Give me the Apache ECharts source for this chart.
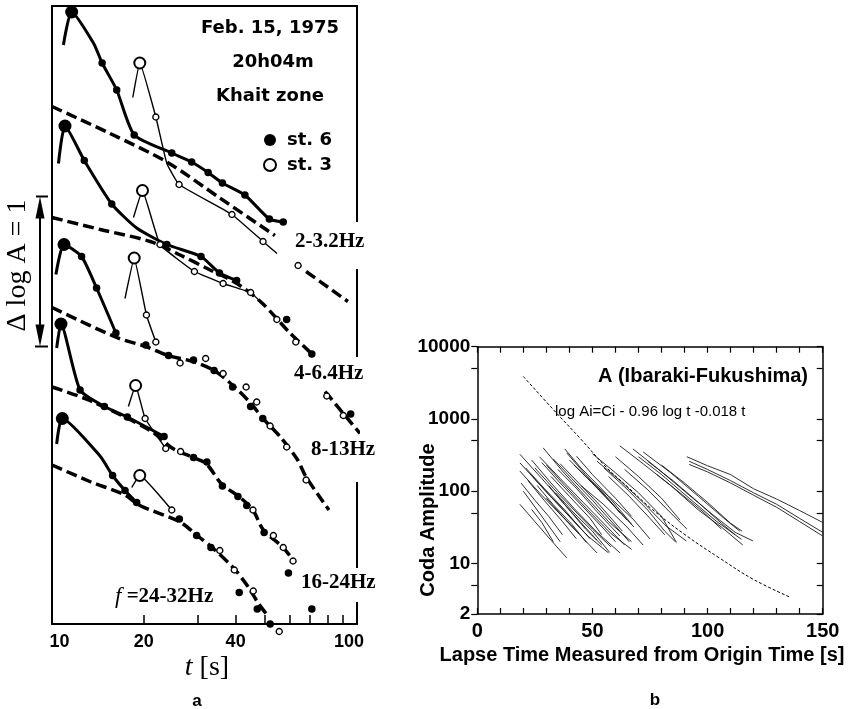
<!DOCTYPE html>
<html><head><meta charset="utf-8">
<script src="https://cdn.jsdelivr.net/npm/echarts/dist/echarts.min.js"></script>
<style>html,body{margin:0;padding:0;background:#fff}#c{width:852px;height:709px}</style>
</head><body><div id="c"></div>
<script>
// ---------- Panel a : t [s] (log), relative log A (units of one decade) ----------
const tTicksA = [10, 20, 30, 40, 50, 60, 70, 80, 90, 100];
const tLabelsA = [10, 20, 40, 100];
const scaleBar = [1.85, 2.85]; // Δ log A = 1

// band 1 : 2-3.2 Hz
const b1Dash = [[10,3.45],[15.5,3.27],[23.8,3.08],[35.5,2.84],[53.8,2.59]];
const b1DashTail = [[68.1,2.35],[93.4,2.15]];
const b1St6Path = [[10.9,3.86],[11.6,4.08],[13.7,3.87],[14.6,3.74],[16.3,3.56],[18.6,3.26],[24.7,3.14],[28.7,3.08],[32.5,3.01],[36.2,2.94],[42.9,2.86],[51.6,2.70],[57.3,2.68]];
const b1St6Dots = [[11.6,4.08],[14.6,3.74],[16.3,3.56],[18.6,3.26],[24.7,3.14],[28.7,3.08],[32.5,3.01],[36.2,2.94],[42.9,2.86],[51.6,2.70],[57.3,2.68]];
const b1St3Path = [[18.4,3.51],[19.4,3.74],[21.9,3.38],[23.8,3.07],[26.1,2.93],[38.9,2.73],[49.2,2.55],[54.7,2.47]];
const b1St3Dots = [[19.4,3.74],[21.9,3.38],[26.1,2.93],[38.9,2.73],[49.2,2.55],[64.1,2.39]];

// band 2 : 4-6.4 Hz
const b2Dash = [[10,2.71],[14.4,2.63],[21.0,2.55],[26.3,2.46],[33.0,2.36],[40.4,2.27],[48.8,2.14],[60.3,1.94],[71.2,1.80]];
const b2DashTail = [[78.6,1.55],[102.3,1.27]];
const b2St6Path = [[10.5,3.07],[11.03,3.32],[12.76,3.09],[15.7,2.80],[18.95,2.64],[23.8,2.53],[30.8,2.45],[35.4,2.34],[40.3,2.29]];
const b2St6Dots = [[11.03,3.32],[12.76,3.09],[15.7,2.80],[23.8,2.53],[30.8,2.45],[35.4,2.34],[40.3,2.29],[58.8,2.03],[71.1,1.80],[95.3,1.40]];
const b2St3Path = [[18.5,2.71],[19.8,2.89],[22.6,2.53],[29.3,2.35],[36.4,2.27],[44.8,2.21],[48.7,2.14]];
const b2St3Dots = [[19.8,2.89],[22.6,2.53],[29.3,2.35],[36.4,2.27],[44.8,2.21],[54.6,2.03],[63.0,1.88],[79.6,1.52],[90.2,1.39]];

// band 3 : 8-13 Hz
const b3Dash = [[10,2.11],[16.3,1.91],[20.3,1.85],[24.0,1.79],[29.0,1.75],[34.0,1.69],[39.2,1.59],[44.9,1.47],[49.2,1.37],[55.9,1.25],[63.6,1.10],[68.1,0.98],[80.9,0.76]];
const b3St6Path = [[10.3,2.33],[10.95,2.53],[12.5,2.45],[14.0,2.24],[16.2,1.94]];
const b3St6Dots = [[10.95,2.53],[12.5,2.45],[14.0,2.24],[16.2,1.94],[20.3,1.86],[24.1,1.79],[29.1,1.76],[34.0,1.69],[39.1,1.58],[44.8,1.45],[49.1,1.37]];
const b3St3Path = [[17.35,2.17],[18.6,2.44],[20.4,2.06],[21.9,1.88]];
const b3St3Dots = [[18.6,2.44],[20.4,2.06],[21.9,1.88],[26.3,1.74],[31.9,1.77],[36.4,1.67],[43.3,1.58],[46.9,1.48],[51.9,1.32],[58.8,1.18],[68.1,0.96]];

// band 4 : 16-24 Hz
const b4Dash = [[10,1.58],[13.3,1.49],[21.0,1.29],[24.9,1.17],[29.0,1.11],[32.0,1.07],[36.1,0.93],[41.0,0.85],[45.6,0.76],[49.2,0.63],[57.2,0.51],[62.6,0.41]];
const b4St6Path = [[10.36,1.84],[10.7,2.0],[12.36,1.56],[14.85,1.45],[17.66,1.38],[23.3,1.25]];
const b4St6Dots = [[10.7,2.0],[12.36,1.56],[14.85,1.45],[17.66,1.38],[23.3,1.25],[29.1,1.11],[32.2,1.08],[36.2,0.92],[40.7,0.85],[43.5,0.79],[49.6,0.61],[59.6,0.34],[71.1,0.10]];
const b4St3Path = [[17.8,1.45],[18.8,1.59],[20.2,1.37],[23.6,1.17]];
const b4St3Dots = [[18.8,1.59],[20.2,1.37],[23.6,1.17],[26.4,1.15],[45.6,0.76],[53.2,0.59],[57.3,0.51],[61.7,0.42]];

// band 5 : f = 24-32 Hz
const b5Dash = [[10,1.06],[13.3,0.95],[17.35,0.86],[19.4,0.79],[26.3,0.68],[29.9,0.59],[33.5,0.51],[39.5,0.37],[43.9,0.25],[47.4,0.14],[50.3,0.07]];
const b5St6Path = [[10.36,1.20],[10.81,1.37],[14.37,1.12],[15.8,0.99],[17.35,0.89],[18.95,0.81]];
const b5St6Dots = [[10.81,1.37],[15.8,0.99],[17.35,0.89],[18.95,0.81],[26.15,0.70],[29.8,0.59],[33.2,0.51],[41.1,0.21],[47.1,0.10],[51.9,0.0]];
const b5St3Path = [[18.25,0.91],[19.4,0.99],[24.7,0.76]];
const b5St3Dots = [[19.4,0.99],[24.7,0.76],[35.5,0.49],[39.6,0.36],[45.7,0.22],[55.6,-0.05]];

// ---------- Panel b : lapse time [s] vs coda amplitude (log) ----------
const ampTicks = [2, 5, 10, 50, 100, 500, 1000, 5000, 10000];
const ampLabels = [2, 10, 100, 1000, 10000];
const modelCurve = [[20,3870],[33,1350],[45,525],[56,215],[65,117],[76,56],[91,24],[105,12],[120,6],[136,3.4]];
const codaGroupA = [
  [[18.5,325],[28,150],[38,65],[47,30],[54,18]],
  [[18.5,247],[28,115],[38,52],[48,24],[57,14]],
  [[18.5,190],[27,95],[36,48],[44,26]],
  [[18.5,66],[25,38],[32,21],[38.8,12]],
  [[23.6,56],[28,37],[33,20]],
  [[23.6,270],[32,130],[42,58],[52,27],[62,14]],
  [[25,210],[33,110],[42,55],[50,30],[58,17]],
  [[28.6,398],[37,190],[47,85],[57,38],[67,20]],
  [[27,300],[36,150],[46,70],[56,33],[64,18]],
  [[30,230],[38,120],[48,55],[58,26],[67,15.7]],
  [[38,385],[45,210],[55,100],[63,50],[67,35]],
  [[38.8,340],[47,170],[56,85],[62,50]],
  [[43.1,305],[50,170],[60,80],[67,45]],
  [[22,140],[29,75],[37,38],[43,22]],
  [[26,120],[33,65],[41,35],[47.4,19.5]],
  [[20,100],[26,55],[32,30],[36,20]],
  [[32,160],[40,85],[49,42],[54,25]],
  [[35,200],[43,110],[52,52],[61.9,24]],
  [[30,80],[37,45],[45,24],[52,14]],
  [[34,95],[42,50],[50,28],[57.5,14.2]],
  [[21,210],[29,110],[38,55],[45,30]],
  [[24,160],[31,90],[40,45],[49,22]],
  [[28,250],[36,130],[45,65],[55,30],[60,20]],
  [[33,280],[41,150],[50,75],[60,33],[66,20]],
  [[36,240],[44,130],[53,65],[63,28]],
  [[40,270],[48,150],[57,75],[65,40]],
  [[19,130],[25,75],[31,45],[37,25]],
  [[31,120],[38,65],[46,34],[52,21]]
];
const codaGroupB = [
  [[50,330],[60,180],[70,95],[80,45],[86.5,19.5]],
  [[52,260],[62,140],[72,70],[82,33],[90.8,20.5]],
  [[55,210],[64,115],[74,55],[81.4,28],[86,20]],
  [[48,150],[58,80],[68,40],[74.9,22]],
  [[57,160],[66,85],[75,42],[81.4,25]],
  [[45,120],[55,65],[65,32],[72,18]],
  [[42,230],[50,130],[60,60],[68,32]],
  [[60,300],[70,160],[80,80],[88,40]],
  [[64,200],[74,105],[84,50],[91,30]]
];
const codaGroupC = [
  [[61.9,425],[72,240],[84,120],[96,55],[106,32],[115.3,18]],
  [[67.6,385],[78,210],[90,100],[102,48],[112,27],[119.7,20.5]],
  [[70,300],[80,170],[92,80],[104,38],[114.7,21.6]],
  [[74,260],[85,140],[96,70],[106,36],[112,25]],
  [[80,230],[90,130],[100,70],[110,36],[115,28]],
  [[78,170],[88,95],[98,52],[106,30]],
  [[72,350],[84,180],[96,85],[108,40],[114,28]]
];
const codaGroupD = [
  [[91,300],[100,225],[110,170],[120,108],[130,78],[140,54],[150,37]],
  [[92,260],[100,200],[110,140],[120,95],[130,66],[140,42],[150,27]],
  [[92,235],[100,185],[110,130],[120,88],[130,60],[140,38],[150,24]]
];

// ---------- helpers ----------
const LG10 = Math.log10;
const lgX = a => a.map(p => [LG10(p[0]), p[1]]);
const lgY = a => a.map(p => [p[0], LG10(p[1])]);
const SANS_A = '"DejaVu Sans"';
const SANS = '"Liberation Sans", Arial, sans-serif';
const SERIF = '"Liberation Serif", "Times New Roman", serif';

const series = [];
function addScatter(name, d, filled, size, bw, z) {
  series.push({type:'scatter', name, xAxisIndex:0, yAxisIndex:0, data:lgX(d), symbol:'circle',
    symbolSize:size, clip:false, z, silent:true,
    itemStyle: filled ? {color:'#000', opacity:1} : {color:'#fff', borderColor:'#000', borderWidth:bw, opacity:1}});
}
function addLine(d, width, dash, smooth, z) {
  series.push({type:'line', xAxisIndex:0, yAxisIndex:0, data:lgX(d), showSymbol:false, smooth,
    clip:false, z, silent:true, lineStyle:{color:'#000', width, type:dash || 'solid', cap:'butt'}});
}
const bands = [
  [b1Dash, b1DashTail, b1St6Path, b1St6Dots, b1St3Path, b1St3Dots],
  [b2Dash, b2DashTail, b2St6Path, b2St6Dots, b2St3Path, b2St3Dots],
  [b3Dash, null, b3St6Path, b3St6Dots, b3St3Path, b3St3Dots],
  [b4Dash, null, b4St6Path, b4St6Dots, b4St3Path, b4St3Dots],
  [b5Dash, null, b5St6Path, b5St6Dots, b5St3Path, b5St3Dots]
];
// legend series first
addScatter('st. 6', bands[0][3].slice(1), true, 7.5, 0, 5);
addScatter('st. 3', bands[0][5].slice(1), false, 6, 1.4, 5);
bands.forEach((b, i) => {
  addLine(b[0], 3.5, [11,5], 0.3, 2);
  if (b[1]) addLine(b[1], 3.5, [11,5], 0, 2);
  addLine(b[2], 3, null, 0.2, 3);
  addLine(b[4], 1.4, null, 0.1, 3);
  addScatter('st6peak', b[3].slice(0,1), true, 13, 0, 5);
  if (i > 0) addScatter('st6dots', b[3].slice(1), true, 7.5, 0, 5);
  addScatter('st3peak', b[5].slice(0,1), false, 11, 2, 5);
  if (i > 0) addScatter('st3dots', b[5].slice(1), false, 6, 1.4, 5);
});
// panel b
[codaGroupA, codaGroupB, codaGroupC, codaGroupD].forEach(g => g.forEach(line => {
  series.push({type:'line', xAxisIndex:2, yAxisIndex:2, data:lgY(line), showSymbol:false, silent:true,
    lineStyle:{color:'#1a1a1a', width:0.9}});
}));
series.push({type:'line', xAxisIndex:2, yAxisIndex:2, data:lgY(modelCurve), showSymbol:false, smooth:0.4,
  silent:true, lineStyle:{color:'#000', width:1, type:[3,2]}});

const axA = {color:'#000', width:2};
const axB = {color:'#000', width:1.5};
const noLbl = {show:false};
const option = {
  animation:false,
  backgroundColor:'#fff',
  grid:[
    {left:52, top:6, width:305, height:618},
    {left:477.3, top:346.7, width:345.4, height:267.3}
  ],
  legend:{
    data:[{name:'st. 6', icon:'circle'},
          {name:'st. 3', icon:'circle', itemStyle:{color:'#fff', borderColor:'#000', borderWidth:2}}],
    orient:'vertical', left:258, top:126, itemWidth:12, itemHeight:12, itemGap:7, selectedMode:false,
    textStyle:{fontFamily:SANS_A, fontWeight:'bold', fontSize:18, color:'#000', padding:[0,0,0,6]}
  },
  xAxis:[
    {gridIndex:0, type:'value', min:1, max:2, position:'bottom',
     axisLine:{onZero:false, lineStyle:axA},
     axisTick:{inside:true, length:9, lineStyle:{color:'#000', width:1.5}, customValues:tTicksA.map(LG10)},
     axisLabel:{customValues:tLabelsA.map(LG10), margin:9, color:'#000',
       fontFamily:SANS, fontWeight:'bold', fontSize:18,
       formatter:v => { const n = Math.round(Math.pow(10, v)); return n === 10 ? '{l|10}' : n === 100 ? '{r|100}' : '{c|' + n + '}'; },
       rich:{
         l:{fontFamily:SANS, fontWeight:'bold', fontSize:18, color:'#000', padding:[0,0,0,15]},
         r:{fontFamily:SANS, fontWeight:'bold', fontSize:18, color:'#000', padding:[0,16,0,0]},
         c:{fontFamily:SANS, fontWeight:'bold', fontSize:18, color:'#000'}
       }},
     splitLine:{show:false}},
    {gridIndex:0, type:'value', min:1, max:2, position:'top',
     axisLine:{onZero:false, lineStyle:axA}, axisTick:{show:false}, axisLabel:noLbl, splitLine:{show:false}},
    {gridIndex:1, type:'value', min:0, max:150, interval:10, position:'bottom',
     axisLine:{onZero:false, lineStyle:axB},
     axisTick:{inside:true, length:6, lineStyle:{color:'#000', width:1.2}},
     axisLabel:{margin:7, color:'#000', fontFamily:SANS, fontWeight:'bold', fontSize:20,
       formatter:v => (v % 50 === 0 ? String(v) : '')},
     splitLine:{show:false}},
    {gridIndex:1, type:'value', min:0, max:150, interval:10, position:'top',
     axisLine:{onZero:false, lineStyle:axB},
     axisTick:{inside:true, length:6, lineStyle:{color:'#000', width:1.2}}, axisLabel:noLbl, splitLine:{show:false}}
  ],
  yAxis:[
    {gridIndex:0, type:'value', min:0, max:4.12, position:'left',
     axisLine:{show:true, onZero:false, lineStyle:axA}, axisTick:{show:false}, axisLabel:noLbl, splitLine:{show:false}},
    {gridIndex:0, type:'value', min:0, max:4.12, position:'right',
     axisLine:{show:true, onZero:false, lineStyle:axA}, axisTick:{show:false}, axisLabel:noLbl, splitLine:{show:false}},
    {gridIndex:1, type:'value', min:LG10(2), max:4, position:'left',
     axisLine:{show:true, onZero:false, lineStyle:axB},
     axisTick:{show:true, inside:false, length:6, lineStyle:{color:'#000', width:1.2}, customValues:ampTicks.map(LG10)},
     axisLabel:{customValues:ampLabels.map(LG10), margin:7, color:'#000', fontFamily:SANS, fontWeight:'bold', fontSize:19,
       formatter:v => String(Math.round(Math.pow(10, v)))},
     splitLine:{show:false}},
    {gridIndex:1, type:'value', min:LG10(2), max:4, position:'right',
     axisLine:{show:true, onZero:false, lineStyle:axB},
     axisTick:{show:true, inside:true, length:6, lineStyle:{color:'#000', width:1.2}, customValues:ampTicks.map(LG10)},
     axisLabel:noLbl, splitLine:{show:false}}
  ],
  series
};

const chart = echarts.init(document.getElementById('c'), null, {renderer:'canvas'});
chart.setOption(option);

// ---------- annotations ----------
function txt(x, y, text, font, align, extra) {
  return Object.assign({type:'text', x, y, z:20, silent:true,
    style:{text, font, fill:'#000', align:align || 'center', textAlign:align || 'center',
           verticalAlign:'middle', textVerticalAlign:'middle'}}, extra || {});
}
const pTop = chart.convertToPixel({gridIndex:0}, [1, scaleBar[1]]);
const pBot = chart.convertToPixel({gridIndex:0}, [1, scaleBar[0]]);
const bx = pTop[0] - 12, yT = pTop[1], yB = pBot[1];
const rightX = chart.convertToPixel({gridIndex:0}, [2, 0])[0];
const gaps = [[222, 269], [357, 482], [568, 602]];
const graphics = [];
gaps.forEach(g => graphics.push({type:'rect', z:1, silent:true,
  shape:{x:rightX - 4, y:g[0], width:8, height:g[1] - g[0]}, style:{fill:'#fff'}}));
// scale bar
graphics.push({type:'line', z:20, silent:true, shape:{x1:bx, y1:yT + 18, x2:bx, y2:yB - 18}, style:{stroke:'#000', lineWidth:2}});
graphics.push({type:'polygon', z:20, silent:true, shape:{points:[[bx, yT], [bx - 4.5, yT + 22], [bx + 4.5, yT + 22]]}, style:{fill:'#000'}});
graphics.push({type:'polygon', z:20, silent:true, shape:{points:[[bx, yB], [bx - 4.5, yB - 22], [bx + 4.5, yB - 22]]}, style:{fill:'#000'}});
graphics.push({type:'line', z:20, silent:true, shape:{x1:bx - 4, y1:yT, x2:bx + 8, y2:yT}, style:{stroke:'#000', lineWidth:2}});
graphics.push({type:'line', z:20, silent:true, shape:{x1:bx - 5, y1:yB, x2:bx + 8, y2:yB}, style:{stroke:'#000', lineWidth:2}});
graphics.push(txt(18, (yT + yB) / 2 - 6, 'Δ log A = 1', '28px ' + SERIF, 'center', {rotation:Math.PI / 2}));
// panel a texts
graphics.push(txt(270, 28, 'Feb. 15, 1975', 'bold 18px ' + SANS_A));
graphics.push(txt(273, 62, '20h04m', 'bold 18px ' + SANS_A));
graphics.push(txt(270, 96, 'Khait zone', 'bold 18px ' + SANS_A));
graphics.push(txt(295, 242, '2-3.2Hz', 'bold 21px ' + SERIF, 'left'));
graphics.push(txt(294, 374, '4-6.4Hz', 'bold 21px ' + SERIF, 'left'));
graphics.push(txt(311, 450, '8-13Hz', 'bold 21px ' + SERIF, 'left'));
graphics.push(txt(301, 583, '16-24Hz', 'bold 21px ' + SERIF, 'left'));
graphics.push({type:'text', x:115, y:597, z:20, silent:true, style:{
  text:'{i|f}{b| =24-32Hz}', align:'left', textAlign:'left', verticalAlign:'middle', textVerticalAlign:'middle',
  rich:{i:{fontFamily:SERIF, fontStyle:'italic', fontSize:23, fill:'#000', color:'#000'},
        b:{fontFamily:SERIF, fontWeight:'bold', fontSize:21, fill:'#000', color:'#000'}}}});
graphics.push({type:'text', x:207, y:668, z:20, silent:true, style:{
  text:'{i|t}{n| [s]}', align:'center', textAlign:'center', verticalAlign:'middle', textVerticalAlign:'middle',
  rich:{i:{fontFamily:SERIF, fontStyle:'italic', fontSize:28, fill:'#000', color:'#000'},
        n:{fontFamily:SERIF, fontSize:28, fill:'#000', color:'#000'}}}});
graphics.push(txt(197, 701, 'a', 'bold 17px ' + SANS));
// panel b texts
graphics.push(txt(655, 700, 'b', 'bold 17px ' + SANS));
graphics.push(txt(808, 376, 'A (Ibaraki-Fukushima)', 'bold 20px ' + SANS, 'right'));
graphics.push(txt(555, 412, 'log Ai=Ci - 0.96 log t -0.018 t', '15px ' + SANS, 'left'));
graphics.push(txt(642, 655, 'Lapse Time Measured from Origin Time [s]', 'bold 20px ' + SANS));
graphics.push(txt(428, 520, 'Coda Amplitude', 'bold 20px ' + SANS, 'center', {rotation:Math.PI / 2}));
chart.setOption({graphic:graphics});
</script></body></html>
